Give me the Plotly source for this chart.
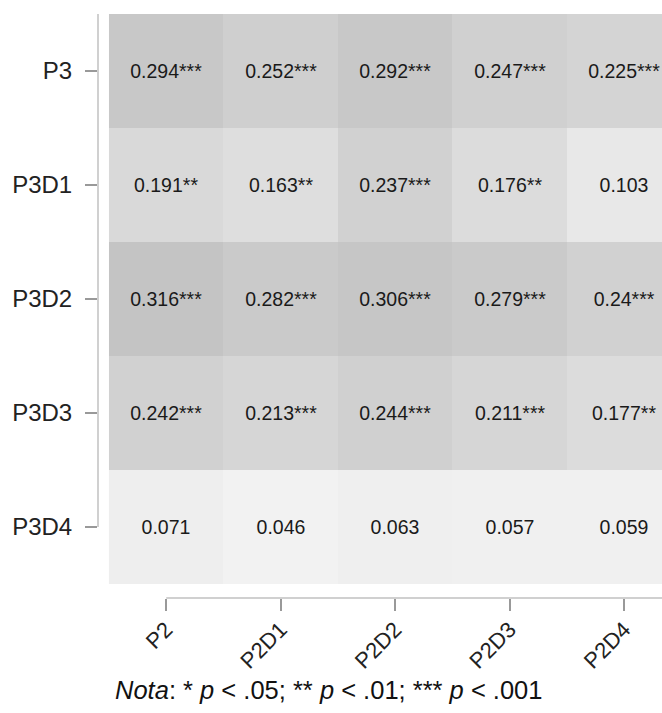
import plotly.graph_objects as go

x_labels = ["P2", "P2D1", "P2D2", "P2D3", "P2D4"]
y_labels = ["P3", "P3D1", "P3D2", "P3D3", "P3D4"]

values = [
    [0.294, 0.252, 0.292, 0.247, 0.225],
    [0.191, 0.163, 0.237, 0.176, 0.103],
    [0.316, 0.282, 0.306, 0.279, 0.240],
    [0.242, 0.213, 0.244, 0.211, 0.177],
    [0.071, 0.046, 0.063, 0.057, 0.059],
]
stars = [
    ["***", "***", "***", "***", "***"],
    ["**", "**", "***", "**", ""],
    ["***", "***", "***", "***", "***"],
    ["***", "***", "***", "***", "**"],
    ["", "", "", "", ""],
]

text = [[f"{v:g}{s}" for v, s in zip(rv, rs)] for rv, rs in zip(values, stars)]

FONT = "Liberation Sans, Arial, sans-serif"

fig = go.Figure(
    go.Heatmap(
        z=values,
        x=x_labels,
        y=y_labels,
        text=text,
        texttemplate="%{text}",
        textfont=dict(family=FONT, size=19.5, color="#1a1a1a"),
        colorscale=[[0, "#f2f2f2"], [1, "#c4c4c4"]],
        zmin=0.046,
        zmax=0.316,
        showscale=False,
        hoverinfo="skip",
    )
)

axis_line = dict(color="#c0c0c0", width=1.5)

fig.add_shape(type="line", xref="x domain", x0=0, x1=0, yref="y", y0=-0.5, y1=4,
              line=axis_line)
fig.add_shape(type="line", xref="x", x0=0, x1=4.5, yref="y domain", y0=0, y1=0,
              line=axis_line)

fig.update_xaxes(
    range=[-0.596, 4.33],
    showgrid=False, zeroline=False, showline=False,
    ticks="outside", ticklen=12, tickwidth=1.5, tickcolor="#999999",
    tickangle=-45,
    ticklabelstandoff=-3,
    tickfont=dict(family=FONT, size=22, color="#222222"),
)
fig.update_yaxes(
    range=[4.623, -0.5],
    showgrid=False, zeroline=False, showline=False,
    ticks="outside", ticklen=12, tickwidth=1.5, tickcolor="#999999",
    ticklabelstandoff=8,
    tickfont=dict(family=FONT, size=24, color="#222222"),
)

fig.add_annotation(
    xref="paper", yref="paper", x=0.0266, y=-0.1575,
    xanchor="left", yanchor="middle", showarrow=False,
    text="<i>Nota</i>: * <i>p</i> < .05; ** <i>p</i> < .01; *** <i>p</i> < .001",
    font=dict(family=FONT, size=25.5, color="#111111"),
)

fig.update_layout(
    width=662, height=713,
    margin=dict(l=98, r=0, t=14, b=115),
    plot_bgcolor="white", paper_bgcolor="white",
)

fig.write_html(
    "out.html",
    config={"displayModeBar": False},
    post_script="document.body.style.margin='0px';document.body.style.overflow='hidden';",
)
